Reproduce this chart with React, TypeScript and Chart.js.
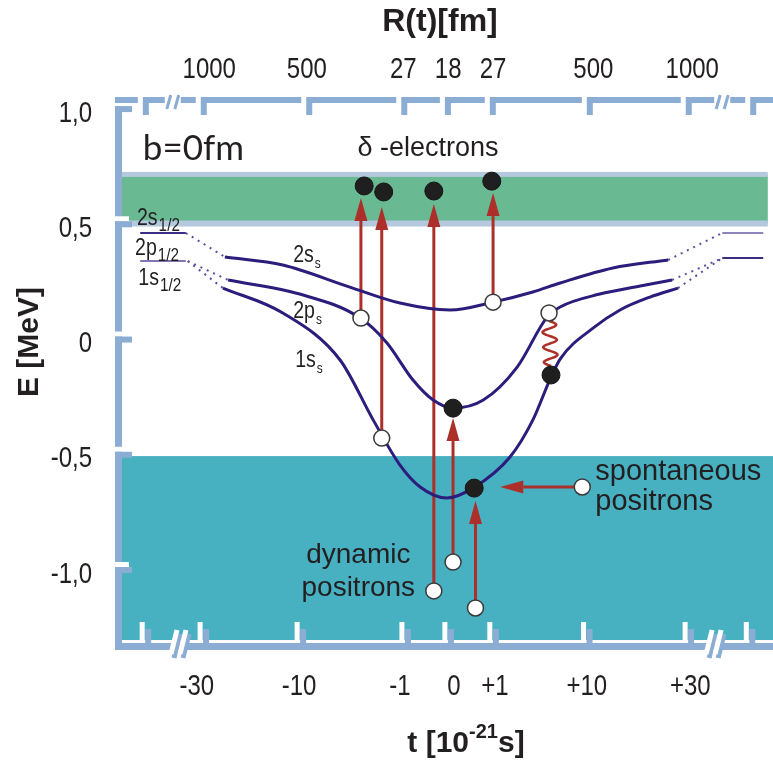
import React, { useEffect, useRef } from "react";
import { Chart, registerables } from "chart.js";

Chart.register(...registerables);

// Horizontal display coordinate u: the time axis is broken and compressed,
// so the t and R(t) ticks sit at fixed positions on a linear u scale.
const U_MIN = -51;
const U_MAX = 49;
const E_MIN = -1.295;
const E_MAX = 1.035;

const tTickPos = [-39.5, -23.8, -8.3, 0, 6.3, 20.4, 36.3];
const tTickLabels = ["-30", "-10", "-1", "0", "+1", "+10", "+30"];
const rTickPos = [-37.6, -22.6, -7.8, -0.9, 6.0, 21.4, 36.6];
const rTickLabels = ["1000", "500", "27", "18", "27", "500", "1000"];
const eTickPos = [1, 0.5, 0, -0.5, -1];
const eTickLabels = ["1,0", "0,5", "0", "-0,5", "-1,0"];

// frame notches and axis breaks (u)
const topNotchU = [-47.8, -38.9, -22.7, -8.1, -1.4, 5.5, 20.4, 35.6, 45.5];
const bottomNotchU = [-47.9, -39.0, -24.1, -8.0, -1.4, 5.5, 19.9, 35.5, 44.9];
const topBreakU = [-43.2, 41.2];
const bottomBreakU = [-42.4, 39.8];

// continua (MeV)
const positiveContinuum = [0.512, 0.723];
const negativeContinuumTop = -0.497;
const bandRightU = 48.2;

// quasi-molecular levels
const s2U = [-35.2, -26.3, -16.0, -8.3, -0.6, 6.0, 12.1, 16.3, 24.4, 32.9];
const s2E = [0.367, 0.332, 0.236, 0.167, 0.137, 0.171, 0.215, 0.254, 0.319, 0.354];
const p2U = [-34.7, -23.7, -14.4, -10.3, -6.3, -3.2, -0.15, 4.5, 9.7, 14.3, 16.3, 22.4, 28.6, 33.5];
const p2E = [0.267, 0.206, 0.102, -0.006, -0.167, -0.254, -0.289, -0.254, -0.111, 0.106, 0.15, 0.206, 0.241, 0.267];
const s1U = [-35.5, -26.3, -17.5, -12.4, -8.3, -5.2, -1.1, 2.9, 8.6, 12.1, 14.7, 16.3, 21.4, 25.5, 30.1, 34.4];
const s1E = [0.232, 0.124, -0.08, -0.341, -0.536, -0.631, -0.679, -0.636, -0.501, -0.341, -0.167, -0.076, 0.059, 0.137, 0.193, 0.232];

// separated-atom levels
const levelLeftU = [-48.2, -41.2];
const levelRightU = [41.2, 47.5];
const level2sLeftE = 0.471;
const level2pLeftE = 0.349;
const level2sRightE = 0.471;
const level2pRightE = 0.362;

// dotted connectors between separated-atom levels and the curves
const connFromU = [-41.2, -40.9, -40.9, 32.9, 33.5, 34.4];
const connFromE = [0.471, 0.349, 0.349, 0.354, 0.267, 0.232];
const connToU = [-35.2, -34.7, -35.5, 41.2, 41.2, 41.2];
const connToE = [0.367, 0.267, 0.232, 0.471, 0.362, 0.362];

// vacancies / holes (open) and electrons (filled)
const openU = [-14.3, -11.1, 6.0, 14.6, -3.1, -0.15, 3.3, 19.7];
const openE = [0.102, -0.419, 0.171, 0.124, -1.082, -0.957, -1.156, -0.631];
const dotU = [-13.8, -10.8, -3.1, 5.8, -0.15, 3.1, 14.9];
const dotE = [0.675, 0.649, 0.653, 0.696, -0.289, -0.636, -0.145];

// transitions
const arrowFromU = [-14.3, -11.1, -3.1, 6.0, -0.15, 3.3, 19.7];
const arrowFromE = [0.102, -0.419, -1.082, 0.171, -0.957, -1.156, -0.631];
const arrowToU = [-14.3, -11.1, -3.1, 6.0, -0.15, 3.3, 7.1];
const arrowToE = [0.623, 0.584, 0.597, 0.644, -0.332, -0.692, -0.631];
const waveU = [14.6, 14.9];
const waveE = [0.089, -0.106];

const BLUE = "#8cadd3";
const TEAL = "#47b1c2";
const GREEN = "#69b993";
const STRIPE = "#b5c9de";
const CURVE = "#2c1c7c";
const RED = "#ad2f2a";
const INK = "#231f20";
const SANS = '"Liberation Sans", Arial, sans-serif';

const zip = (us: number[], es: number[]) => us.map((u, i) => ({ x: u, y: es[i] }));

const OPEN_INDEX = 11;

// condensed text: Liberation Sans squeezed horizontally
function narrowText(
  ctx: CanvasRenderingContext2D,
  text: string,
  x: number,
  y: number,
  size: number,
  align: CanvasTextAlign,
  sx = 0.8
): number {
  ctx.save();
  ctx.font = `${size}px ${SANS}`;
  ctx.textAlign = align;
  ctx.textBaseline = "alphabetic";
  ctx.translate(x, y);
  ctx.scale(sx, 1);
  ctx.fillText(text, 0, 0);
  const w = ctx.measureText(text).width * sx;
  ctx.restore();
  return w;
}

function drawSub(ctx: CanvasRenderingContext2D, main: string, sub: string, x: number, y: number, size: number, subSize: number, drop: number) {
  const w = narrowText(ctx, main, x, y, size, "left", 0.85);
  narrowText(ctx, sub, x + w + 1, y + drop, subSize, "left", 0.85);
}

function drawArrow(ctx: CanvasRenderingContext2D, x0: number, y0: number, x1: number, y1: number) {
  const a = Math.atan2(y1 - y0, x1 - x0);
  const L = 23;
  const W = 6.5;
  const bx = x1 - L * Math.cos(a);
  const by = y1 - L * Math.sin(a);
  ctx.strokeStyle = RED;
  ctx.fillStyle = RED;
  ctx.lineWidth = 3;
  ctx.beginPath();
  ctx.moveTo(x0, y0);
  ctx.lineTo(bx, by);
  ctx.stroke();
  ctx.beginPath();
  ctx.moveTo(x1, y1);
  ctx.lineTo(bx - W * Math.sin(a), by + W * Math.cos(a));
  ctx.lineTo(bx + W * Math.sin(a), by - W * Math.cos(a));
  ctx.closePath();
  ctx.fill();
}

const diagramPlugin = {
  id: "diagram",
  beforeDatasetsDraw(chart: any) {
    const { ctx, chartArea: ca, scales } = chart;
    const xs = scales.x;
    const ys = scales.y;
    ctx.save();
    const yt = ys.getPixelForValue(negativeContinuumTop);
    ctx.fillStyle = TEAL;
    ctx.fillRect(ca.left, yt, ca.right - ca.left, ca.bottom - yt);
    const xr = xs.getPixelForValue(bandRightU);
    const g0 = ys.getPixelForValue(positiveContinuum[1]);
    const g1 = ys.getPixelForValue(positiveContinuum[0]);
    ctx.fillStyle = GREEN;
    ctx.fillRect(ca.left, g0, xr - ca.left, g1 - g0);
    ctx.fillStyle = STRIPE;
    ctx.fillRect(ca.left, g0 - 3, xr - ca.left, 5);
    ctx.fillRect(ca.left, g1 - 3, xr - ca.left, 6);
    ctx.restore();
  },
  beforeDatasetDraw(chart: any, args: any) {
    if (args.index !== OPEN_INDEX) return;
    const { ctx, scales } = chart;
    const xs = scales.x;
    const ys = scales.y;
    ctx.save();
    for (let i = 0; i < arrowFromU.length; i++) {
      drawArrow(
        ctx,
        xs.getPixelForValue(arrowFromU[i]),
        ys.getPixelForValue(arrowFromE[i]),
        xs.getPixelForValue(arrowToU[i]),
        ys.getPixelForValue(arrowToE[i])
      );
    }
    // photon line between 2p and 1s
    const wx0 = xs.getPixelForValue(waveU[0]);
    const wy0 = ys.getPixelForValue(waveE[0]);
    const wx1 = xs.getPixelForValue(waveU[1]);
    const wy1 = ys.getPixelForValue(waveE[1]);
    ctx.strokeStyle = RED;
    ctx.lineWidth = 2.5;
    ctx.beginPath();
    const n = 80;
    for (let k = 0; k <= n; k++) {
      const t = k / n;
      const x = wx0 + (wx1 - wx0) * t + 7 * Math.sin(t * Math.PI * 2 * 3);
      const y = wy0 + (wy1 - wy0) * t;
      if (k === 0) ctx.moveTo(x, y);
      else ctx.lineTo(x, y);
    }
    ctx.stroke();
    ctx.restore();
  },
  afterDatasetsDraw(chart: any) {
    const { ctx, scales } = chart;
    const xs = scales.x;
    const ys = scales.y;
    const X = (u: number) => xs.getPixelForValue(u);
    const Y = (e: number) => ys.getPixelForValue(e);
    ctx.save();
    ctx.fillStyle = INK;
    ctx.textBaseline = "alphabetic";
    ctx.textAlign = "left";
    ctx.font = `35px Lato, ${SANS}`;
    ctx.fillText("b=0fm", X(-47.8), Y(0.787));
    ctx.font = `27px ${SANS}`;
    ctx.textAlign = "center";
    ctx.fillText("\u03b4 -electrons", X(-4.0), Y(0.805));
    ctx.font = `28px ${SANS}`;
    ctx.fillText("dynamic", X(-14.7), Y(-0.961));
    ctx.fillText("positrons", X(-14.7), Y(-1.104));
    ctx.textAlign = "left";
    ctx.font = `29px ${SANS}`;
    ctx.fillText("spontaneous", X(21.7), Y(-0.601));
    ctx.fillText("positrons", X(21.7), Y(-0.731));
    // level labels
    drawSub(ctx, "2s", "1/2", X(-48.7), Y(0.505), 23, 18, 6);
    drawSub(ctx, "2p", "1/2", X(-49.0), Y(0.375), 23, 18, 6);
    drawSub(ctx, "1s", "1/2", X(-48.5), Y(0.245), 23, 18, 6);
    drawSub(ctx, "2s", "s", X(-24.7), Y(0.345), 23, 14, 6);
    drawSub(ctx, "2p", "s", X(-24.7), Y(0.102), 23, 14, 6);
    drawSub(ctx, "1s", "s", X(-24.4), Y(-0.109), 23, 14, 6);
    ctx.restore();
  },
  afterDraw(chart: any) {
    const { ctx, chartArea: ca, scales } = chart;
    const xs = scales.x;
    const x2 = scales.x2;
    const ys = scales.y;
    const W = chart.width;
    ctx.save();
    // tick labels from the scales' own ticks
    ctx.fillStyle = INK;
    const TS = 30;
    xs.ticks.forEach((t: any) => narrowText(ctx, t.label, xs.getPixelForValue(t.value), 695, TS, "center"));
    x2.ticks.forEach((t: any) => narrowText(ctx, t.label, x2.getPixelForValue(t.value), 78, TS, "center"));
    ys.ticks.forEach((t: any) => narrowText(ctx, t.label, 92, ys.getPixelForValue(t.value) + 10.7, TS, "right"));

    // left bar
    ctx.fillStyle = BLUE;
    ctx.fillRect(ca.left - 7, ca.top - 6, 7, ca.bottom + 10 - (ca.top - 6));
    // y notches
    for (const e of eTickPos) {
      const y = ys.getPixelForValue(e);
      ctx.fillStyle = "#fff";
      ctx.fillRect(ca.left - 9, y - 10, 16, 5);
      ctx.fillStyle = BLUE;
      ctx.fillRect(ca.left - 7, y - 5, 17, 6);
    }
    // top bar
    const tops = [ca.left - 7, ...topNotchU.map((u) => xs.getPixelForValue(u))];
    ctx.fillStyle = BLUE;
    for (let i = 0; i < tops.length; i++) {
      const x0 = tops[i];
      const x1 = i + 1 < tops.length ? tops[i + 1] - 5 : W;
      ctx.fillRect(x0, ca.top - 6, x1 - x0, 6);
      if (i > 0) ctx.fillRect(x0, ca.top, 6, 12);
    }
    for (const u of topBreakU) {
      const x = xs.getPixelForValue(u);
      ctx.fillStyle = "#fff";
      ctx.fillRect(x - 8, ca.top - 8, 16, 20);
      ctx.strokeStyle = BLUE;
      ctx.lineWidth = 3;
      ctx.beginPath();
      ctx.moveTo(x - 6, ca.top + 6);
      ctx.lineTo(x - 2, ca.top - 8);
      ctx.moveTo(x + 2, ca.top + 6);
      ctx.lineTo(x + 6, ca.top - 8);
      ctx.stroke();
    }
    // bottom bar
    const yb = ca.bottom;
    ctx.fillStyle = BLUE;
    ctx.fillRect(ca.left - 7, yb + 3, W - (ca.left - 7), 7);
    ctx.fillStyle = "#fff";
    ctx.fillRect(ca.left, yb, W - ca.left, 3);
    for (const u of bottomNotchU) {
      const x = xs.getPixelForValue(u);
      ctx.fillStyle = "#fff";
      ctx.fillRect(x - 2.5, yb - 18, 5, 21);
      ctx.fillStyle = BLUE;
      ctx.fillRect(x + 3, yb - 11, 6, 14);
    }
    for (const u of bottomBreakU) {
      const x = xs.getPixelForValue(u);
      ctx.lineCap = "butt";
      ctx.strokeStyle = BLUE;
      ctx.lineWidth = 5;
      ctx.beginPath();
      ctx.moveTo(x - 4, yb + 18);
      ctx.lineTo(x + 2, yb - 6);
      ctx.moveTo(x + 5, yb + 18);
      ctx.lineTo(x + 11, yb - 6);
      ctx.stroke();
      ctx.strokeStyle = "#fff";
      ctx.beginPath();
      ctx.moveTo(x - 7, yb + 14);
      ctx.lineTo(x - 1, yb - 10);
      ctx.moveTo(x + 2, yb + 14);
      ctx.lineTo(x + 8, yb - 10);
      ctx.stroke();
    }
    // axis titles
    ctx.fillStyle = INK;
    ctx.textBaseline = "alphabetic";
    ctx.textAlign = "center";
    ctx.font = `bold 32px ${SANS}`;
    ctx.fillText("R(t)[fm]", 440, 31);
    // t [10^-21 s]
    const mainFont = `bold 30px ${SANS}`;
    const supFont = `bold 20px ${SANS}`;
    ctx.font = mainFont;
    const a = "t [10";
    const c = "s]";
    const wa = ctx.measureText(a).width;
    const wc = ctx.measureText(c).width;
    ctx.font = supFont;
    const b = "-21";
    const wb = ctx.measureText(b).width;
    const total = wa + wb + wc;
    let x = 466 - total / 2;
    ctx.textAlign = "left";
    ctx.font = mainFont;
    ctx.fillText(a, x, 752);
    x += wa;
    ctx.font = supFont;
    ctx.fillText(b, x, 738);
    x += wb;
    ctx.font = mainFont;
    ctx.fillText(c, x, 752);
    // E [MeV]
    ctx.translate(38, 342);
    ctx.rotate(-Math.PI / 2);
    ctx.textAlign = "center";
    ctx.font = `bold 30px ${SANS}`;
    ctx.fillText("E [MeV]", 0, 0);
    ctx.restore();
  },
};

const noPad = (s: any) => {
  s.paddingLeft = 0;
  s.paddingRight = 0;
  s.paddingTop = 0;
  s.paddingBottom = 0;
};

export default function App() {
  const ref = useRef<HTMLCanvasElement | null>(null);

  useEffect(() => {
    if (!ref.current) return;
    const curve = (label: string, u: number[], e: number[]) => ({
      label,
      data: zip(u, e),
      borderColor: CURVE,
      borderWidth: 3,
      pointRadius: 0,
      cubicInterpolationMode: "monotone" as const,
      order: 5,
    });
    const seg = (label: string, u: number[], e: number[], color: string, width: number, dash: number[] = []) => ({
      label,
      data: zip(u, e),
      borderColor: color,
      borderWidth: width,
      borderDash: dash,
      pointRadius: 0,
      order: 6,
    });
    const conn = connFromU.map((u, i) =>
      seg(`conn${i}`, [u, connToU[i]], [connFromE[i], connToE[i]], "#5b4ea0", 2, [2, 5])
    );
    const datasets: any[] = [
      curve("2s", s2U, s2E),
      curve("2p", p2U, p2E),
      curve("1s", s1U, s1E),
      seg("2s left", levelLeftU, [level2sLeftE, level2sLeftE], "#3d2c86", 2),
      seg("2p left", levelLeftU, [level2pLeftE, level2pLeftE], "#8375b5", 2),
      ...conn,
      seg("2s right", levelRightU, [level2sRightE, level2sRightE], "#8f83bd", 2),
    ];
    // index OPEN_INDEX
    datasets.push({
      label: "vacancies",
      data: zip(openU, openE),
      showLine: false,
      pointRadius: 8,
      pointBackgroundColor: "#ffffff",
      pointBorderColor: "#3a3a3a",
      pointBorderWidth: 1.5,
      order: 1,
    });
    datasets.push({
      label: "electrons",
      data: zip(dotU, dotE),
      showLine: false,
      pointRadius: 9,
      pointBackgroundColor: "#1f1f1f",
      pointBorderColor: "#151515",
      pointBorderWidth: 1,
      order: 0,
    });
    datasets.push(seg("2p right", levelRightU, [level2pRightE, level2pRightE], "#3d2c86", 2));

    const hiddenTicks = {
      display: false,
      autoSkip: false,
      maxRotation: 0,
      minRotation: 0,
    };

    const chart = new Chart(ref.current, {
      type: "line",
      data: { datasets },
      options: {
        animation: false,
        responsive: false,
        devicePixelRatio: 1,
        events: [],
        layout: { padding: 0, autoPadding: false },
        plugins: { legend: { display: false }, tooltip: { enabled: false } },
        scales: {
          x: {
            type: "linear",
            position: "bottom",
            min: U_MIN,
            max: U_MAX,
            grid: { display: false, drawTicks: false },
            border: { display: false },
            afterBuildTicks: (s: any) => {
              s.ticks = tTickPos.map((v) => ({ value: v }));
            },
            afterFit: (s: any) => {
              s.height = 122;
              noPad(s);
            },
            ticks: { ...hiddenTicks, callback: (_v: any, i: number) => tTickLabels[i] },
          },
          x2: {
            type: "linear",
            position: "top",
            min: U_MIN,
            max: U_MAX,
            grid: { display: false, drawTicks: false },
            border: { display: false },
            afterBuildTicks: (s: any) => {
              s.ticks = rTickPos.map((v) => ({ value: v }));
            },
            afterFit: (s: any) => {
              s.height = 103;
              noPad(s);
            },
            ticks: { ...hiddenTicks, callback: (_v: any, i: number) => rTickLabels[i] },
          },
          y: {
            type: "linear",
            min: E_MIN,
            max: E_MAX,
            grid: { display: false, drawTicks: false },
            border: { display: false },
            afterBuildTicks: (s: any) => {
              s.ticks = eTickPos.map((v) => ({ value: v }));
            },
            afterFit: (s: any) => {
              s.width = 122;
              noPad(s);
            },
            ticks: { ...hiddenTicks, callback: (_v: any, i: number) => eTickLabels[i] },
          },
        },
      },
      plugins: [diagramPlugin],
    });
    return () => chart.destroy();
  }, []);

  return (
    <div style={{ position: "fixed", left: 0, top: 0, width: 773, height: 762, background: "#fff" }}>
      <canvas ref={ref} width={773} height={762} />
    </div>
  );
}
